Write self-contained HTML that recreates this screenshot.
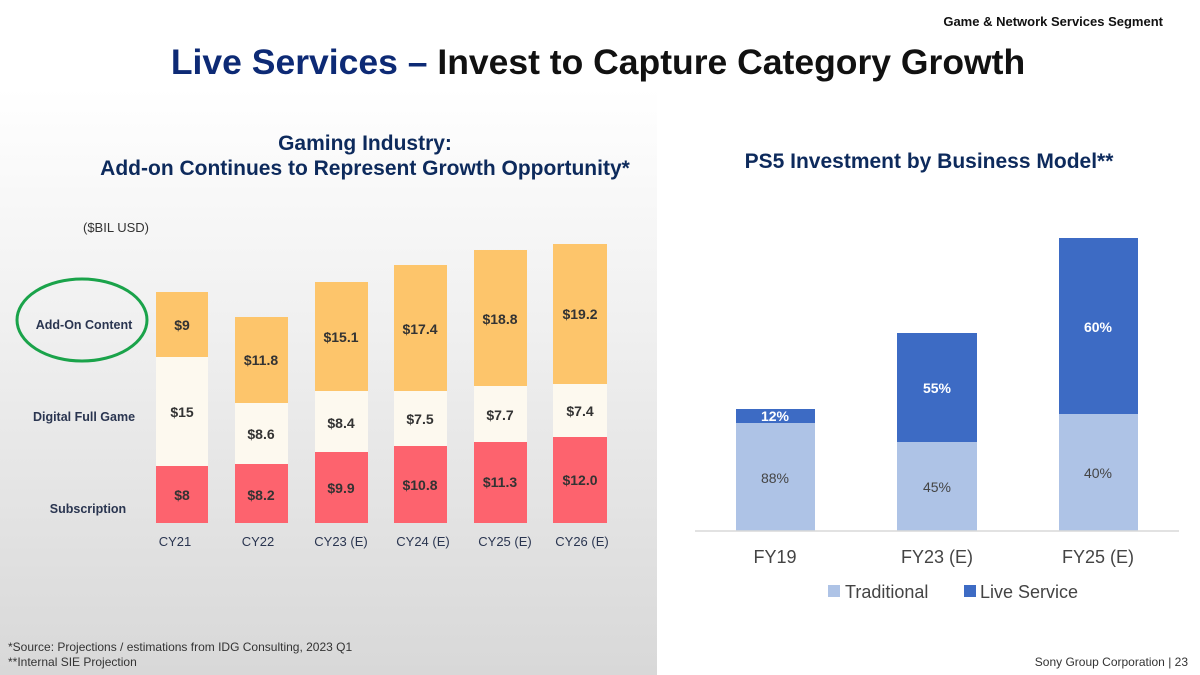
<!DOCTYPE html>
<html><head><meta charset="utf-8"><style>
body{margin:0;width:1200px;height:675px;overflow:hidden;background:#fff;font-family:"Liberation Sans",sans-serif;}
</style></head><body>
<svg width="1200" height="675" xmlns="http://www.w3.org/2000/svg" style="position:absolute;left:0;top:0">
<defs><linearGradient id="g" x1="0" y1="0" x2="0" y2="1"><stop offset="0" stop-color="#ffffff"/><stop offset="0.4" stop-color="#f0f0f0"/><stop offset="1" stop-color="#d8d8d8"/></linearGradient></defs>
<rect x="0" y="88" width="657" height="587" fill="url(#g)"/>
<text x="1163" y="26" text-anchor="end" font-size="13" font-weight="bold" fill="#111">Game &amp; Network Services Segment</text>
<text x="598" y="74" text-anchor="middle" font-size="35.5" font-weight="bold"><tspan fill="#0d2a75">Live Services – </tspan><tspan fill="#111">Invest to Capture Category Growth</tspan></text>
<g font-weight="bold" fill="#0d2a5c" font-size="21" text-anchor="middle">
<text x="365" y="150">Gaming Industry:</text>
<text x="365" y="175">Add-on Continues to Represent Growth Opportunity*</text>
<text x="929" y="168">PS5 Investment by Business Model**</text>
</g>
<text x="83" y="232" font-size="13" fill="#333">($BIL USD)</text>
<ellipse cx="82" cy="320" rx="65" ry="41" fill="none" stroke="#1aa34a" stroke-width="3"/>
<g font-size="12.5" font-weight="bold" fill="#2a3550" text-anchor="middle">
<text x="84" y="329">Add-On Content</text>
<text x="84" y="421">Digital Full Game</text>
<text x="88" y="513">Subscription</text>
</g>
<g id="bars">
<rect x="156" y="292" width="52" height="65" fill="#fdc56b"/><rect x="156" y="357" width="52" height="109" fill="#fdf9ef"/><rect x="156" y="466" width="52" height="57" fill="#fd636e"/>
<rect x="235" y="317" width="53" height="86" fill="#fdc56b"/><rect x="235" y="403" width="53" height="61" fill="#fdf9ef"/><rect x="235" y="464" width="53" height="59" fill="#fd636e"/>
<rect x="315" y="282" width="53" height="109" fill="#fdc56b"/><rect x="315" y="391" width="53" height="61" fill="#fdf9ef"/><rect x="315" y="452" width="53" height="71" fill="#fd636e"/>
<rect x="394" y="265" width="53" height="126" fill="#fdc56b"/><rect x="394" y="391" width="53" height="55" fill="#fdf9ef"/><rect x="394" y="446" width="53" height="77" fill="#fd636e"/>
<rect x="474" y="250" width="53" height="136" fill="#fdc56b"/><rect x="474" y="386" width="53" height="56" fill="#fdf9ef"/><rect x="474" y="442" width="53" height="81" fill="#fd636e"/>
<rect x="553" y="244" width="54" height="140" fill="#fdc56b"/><rect x="553" y="384" width="54" height="53" fill="#fdf9ef"/><rect x="553" y="437" width="54" height="86" fill="#fd636e"/>
</g>
<g font-size="14" font-weight="bold" fill="#333" text-anchor="middle">
<text x="182" y="330">$9</text><text x="182" y="417">$15</text><text x="182" y="500">$8</text>
<text x="261" y="365">$11.8</text><text x="261" y="439">$8.6</text><text x="261" y="500">$8.2</text>
<text x="341" y="342">$15.1</text><text x="341" y="428">$8.4</text><text x="341" y="493">$9.9</text>
<text x="420" y="334">$17.4</text><text x="420" y="424">$7.5</text><text x="420" y="490">$10.8</text>
<text x="500" y="324">$18.8</text><text x="500" y="420">$7.7</text><text x="500" y="487">$11.3</text>
<text x="580" y="319">$19.2</text><text x="580" y="416">$7.4</text><text x="580" y="485">$12.0</text>
</g>
<g font-size="13" fill="#2a3550" text-anchor="middle">
<text x="175" y="546">CY21</text><text x="258" y="546">CY22</text><text x="341" y="546">CY23 (E)</text><text x="423" y="546">CY24 (E)</text><text x="505" y="546">CY25 (E)</text><text x="582" y="546">CY26 (E)</text>
</g>
<g font-size="12" fill="#333"><text x="8" y="651">*Source: Projections / estimations from IDG Consulting, 2023 Q1</text><text x="8" y="666">**Internal SIE Projection</text></g>
<rect x="736" y="409" width="79" height="14" fill="#3d6bc4"/><rect x="736" y="423" width="79" height="108" fill="#aec3e6"/>
<rect x="897" y="333" width="80" height="109" fill="#3d6bc4"/><rect x="897" y="442" width="80" height="89" fill="#aec3e6"/>
<rect x="1059" y="238" width="79" height="176" fill="#3d6bc4"/><rect x="1059" y="414" width="79" height="117" fill="#aec3e6"/>
<line x1="695" y1="531" x2="1179" y2="531" stroke="#d9d9d9" stroke-width="1.5"/>
<g font-size="14" text-anchor="middle">
<text x="775" y="421" fill="#fff" font-weight="bold">12%</text><text x="775" y="483" fill="#444">88%</text>
<text x="937" y="393" fill="#fff" font-weight="bold">55%</text><text x="937" y="492" fill="#444">45%</text>
<text x="1098" y="332" fill="#fff" font-weight="bold">60%</text><text x="1098" y="478" fill="#444">40%</text>
</g>
<g font-size="18" fill="#444" text-anchor="middle">
<text x="775" y="563">FY19</text><text x="937" y="563">FY23 (E)</text><text x="1098" y="563">FY25 (E)</text>
</g>
<rect x="828" y="585" width="12" height="12" fill="#aec3e6"/><text x="845" y="598" font-size="18" fill="#444">Traditional</text>
<rect x="964" y="585" width="12" height="12" fill="#3d6bc4"/><text x="980" y="598" font-size="18" fill="#444">Live Service</text>
<text x="1188" y="666" text-anchor="end" font-size="12" fill="#333">Sony Group Corporation  |  23</text>
</svg>
</body></html>
